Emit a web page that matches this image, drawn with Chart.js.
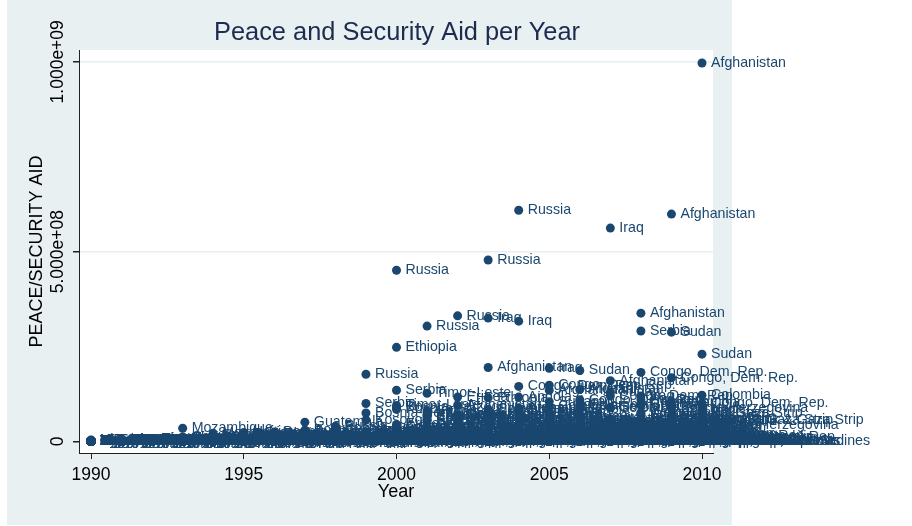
<!DOCTYPE html>
<html>
<head>
<meta charset="utf-8">
<title>Peace and Security Aid per Year</title>
<script src="https://cdn.jsdelivr.net/npm/chart.js@4.4.0/dist/chart.umd.min.js"></script>
<style>
  html, body { margin: 0; padding: 0; background: #fff; }
  canvas { display: block; }
</style>
</head>
<body>
<canvas id="aidChart" width="912" height="526"></canvas>
<script>
const years = [1990, 1991, 1992, 1993, 1994, 1995, 1996, 1997, 1998, 1999, 2000,
               2001, 2002, 2003, 2004, 2005, 2006, 2007, 2008, 2009, 2010];
const xTicks = [1990, 1995, 2000, 2005, 2010];
const yTicks = [0, 5e8, 1e9];
const yTickLabels = ["0", "5.000e+08", "1.000e+09"];

const countries = [
  "Afghanistan", "Angola", "Bosnia-Herzegovina", "Burundi", "Cambodia", "Colombia",
  "Congo, Dem. Rep.", "Cote d'Ivoire", "El Salvador", "Eritrea", "Ethiopia", "Georgia",
  "Guatemala", "Haiti", "Indonesia", "Iraq", "Kosovo", "Lebanon", "Liberia", "Mozambique",
  "Nepal", "Philippines", "Rwanda", "Serbia", "Sierra Leone", "Somalia", "Sri Lanka",
  "Sudan", "Timor-Leste", "Uganda", "West Bank & Gaza Strip", "Nicaragua", "Tajikistan",
  "Yemen", "Kenya", "Pakistan", "Russia",
  "Central African Rep.", "Micronesia, Fed. Sts.", "Papua New Guinea", "Guinea-Bissau",
  "Dominican Republic", "Solomon Islands", "St. Vincent & Grenadines", "Macedonia, FYR",
  "Kyrgyz Republic", "Armenia", "Azerbaijan", "Honduras", "Peru", "Chad", "Croatia",
  "Ukraine", "Mali", "Myanmar"
];

// peace/security aid, US$ millions, one row per country, 1990..2010
const aidMillions = [
  [0, 0, 1, 0, 2, 1, 3, 2, 4, 6, 8, 12, 95, 195, 88, 135, 137, 160, 338, 599, 997],
  [0, 1, 2, 5, 8, 12, 10, 14, 9, 11, 15, 30, 45, 62, 117, 70, 40, 25, 18, 12, 10],
  [0, 0, 0, 3, 6, 18, 25, 30, 35, 75, 90, 70, 60, 55, 45, 40, 38, 50, 60, 87, 43],
  [0, 0, 0, 1, 2, 3, 4, 2, 3, 5, 8, 15, 22, 30, 40, 48, 55, 38, 30, 25, 20],
  [1, 2, 5, 12, 18, 20, 15, 10, 14, 12, 10, 8, 7, 9, 6, 5, 8, 7, 6, 5, 4],
  [0, 0, 1, 0, 1, 2, 2, 3, 5, 20, 38, 65, 70, 85, 80, 92, 95, 88, 100, 105, 122],
  [0, 0, 0, 0, 1, 2, 1, 3, 5, 10, 25, 40, 55, 75, 145, 148, 110, 120, 182, 168, 101],
  [0, 0, 0, 0, 0, 0, 0, 0, 1, 1, 2, 3, 12, 20, 30, 35, 28, 25, 22, 15, 10],
  [2, 3, 6, 8, 10, 9, 7, 5, 4, 3, 2, 2, 1, 1, 1, 0, 1, 0, 0, 0, 0],
  [0, 0, 0, 1, 2, 4, 3, 2, 3, 12, 45, 70, 117, 60, 35, 20, 12, 8, 5, 4, 3],
  [1, 0, 1, 2, 3, 2, 4, 5, 8, 20, 248, 55, 40, 115, 30, 25, 20, 18, 15, 12, 10],
  [0, 0, 0, 1, 3, 5, 6, 7, 8, 10, 12, 15, 18, 20, 25, 28, 30, 45, 95, 60, 40],
  [1, 2, 3, 4, 6, 10, 20, 51, 30, 25, 15, 10, 8, 6, 5, 7, 6, 8, 9, 10, 8],
  [0, 1, 2, 5, 15, 24, 20, 18, 12, 10, 8, 6, 5, 10, 40, 55, 50, 45, 38, 30, 85],
  [0, 0, 0, 0, 0, 1, 1, 2, 5, 15, 30, 25, 20, 18, 22, 65, 40, 25, 18, 12, 10],
  [0, 0, 1, 2, 1, 0, 0, 0, 0, 0, 0, 0, 2, 325, 317, 193, 105, 562, 120, 95, 80],
  [0, 0, 0, 0, 0, 0, 0, 0, 10, 57, 85, 60, 45, 35, 28, 25, 30, 38, 75, 50, 42],
  [0, 0, 1, 2, 3, 4, 3, 2, 2, 3, 4, 5, 4, 3, 2, 3, 15, 45, 55, 40, 35],
  [0, 0, 1, 2, 4, 6, 8, 10, 6, 5, 4, 3, 2, 25, 60, 70, 65, 55, 40, 30, 25],
  [0, 1, 4, 35, 22, 15, 10, 6, 4, 3, 2, 1, 1, 0, 1, 0, 0, 0, 0, 0, 0],
  [0, 0, 0, 0, 0, 1, 0, 0, 1, 2, 3, 5, 10, 12, 15, 18, 25, 40, 48, 35, 28],
  [0, 0, 0, 1, 1, 2, 2, 3, 4, 5, 6, 8, 10, 12, 15, 18, 20, 25, 30, 28, 2],
  [0, 0, 0, 1, 8, 20, 15, 12, 10, 8, 7, 6, 5, 6, 8, 10, 8, 6, 5, 4, 3],
  [0, 0, 0, 0, 0, 0, 0, 0, 5, 100, 135, 80, 70, 65, 60, 75, 85, 90, 291, 70, 45],
  [0, 0, 0, 0, 1, 2, 3, 4, 6, 12, 40, 55, 48, 35, 25, 20, 15, 12, 10, 8, 7],
  [0, 0, 2, 10, 8, 4, 2, 1, 1, 1, 2, 3, 5, 8, 12, 20, 30, 50, 70, 65, 58],
  [0, 0, 0, 0, 0, 0, 1, 1, 2, 2, 3, 4, 10, 20, 15, 25, 30, 22, 18, 15, 12],
  [0, 0, 0, 0, 0, 0, 0, 0, 1, 2, 4, 6, 10, 20, 85, 105, 187, 130, 110, 288, 230],
  [0, 0, 0, 0, 0, 0, 0, 0, 0, 15, 95, 127, 70, 40, 30, 20, 25, 35, 28, 20, 15],
  [0, 0, 0, 1, 1, 2, 2, 3, 4, 5, 6, 8, 10, 15, 20, 25, 30, 28, 22, 18, 15],
  [0, 0, 0, 2, 10, 15, 12, 10, 8, 8, 10, 12, 20, 25, 30, 40, 45, 60, 75, 56, 56],
  [3, 5, 6, 8, 7, 6, 5, 4, 3, 2, 2, 1, 1, 1, 0, 0, 0, 0, 0, 0, 0],
  [0, 0, 0, 1, 2, 3, 4, 5, 6, 4, 3, 5, 8, 10, 12, 10, 8, 7, 6, 5, 4],
  [0, 0, 0, 0, 0, 0, 0, 0, 0, 0, 1, 1, 2, 2, 3, 4, 5, 8, 12, 20, 30],
  [0, 0, 0, 0, 0, 0, 0, 1, 1, 2, 3, 4, 5, 6, 8, 10, 12, 15, 25, 20, 18],
  [0, 0, 0, 0, 0, 0, 0, 0, 0, 0, 1, 2, 5, 8, 12, 15, 20, 30, 45, 60, 75],
  [0, 0, 1, 3, 8, 15, 20, 25, 40, 177, 451, 304, 331, 478, 609, 80, 60, 55, 50, 45, 40],
  [0, 0, 0, 1, 1, 2, 3, 5, 6, 4, 3, 5, 6, 8, 10, 12, 15, 18, 20, 15, 12],
  [0, 0, 0, 0, 0, 0, 0, 0, 0, 0, 0, 0, 0, 0, 0, 0, 0, 0, 0, 0, 1],
  [1, 2, 3, 4, 6, 5, 8, 10, 12, 10, 8, 6, 5, 5, 6, 7, 6, 5, 4, 3, 3],
  [0, 0, 0, 0, 0, 0, 1, 2, 6, 8, 5, 4, 3, 3, 4, 6, 8, 10, 8, 6, 5],
  [1, 2, 2, 3, 3, 2, 2, 1, 1, 1, 1, 1, 2, 2, 2, 2, 1, 1, 1, 1, 1],
  [0, 0, 0, 0, 0, 0, 0, 0, 0, 1, 3, 8, 15, 30, 25, 18, 12, 10, 8, 6, 5],
  [0, 0, 0, 0, 0, 0, 0, 0, 0, 0, 0, 0, 0, 0, 0, 0, 0, 0, 0, 0, 0],
  [0, 0, 0, 2, 4, 6, 8, 6, 10, 25, 30, 35, 28, 20, 15, 12, 10, 8, 6, 5, 4],
  [0, 0, 0, 0, 1, 2, 2, 3, 3, 4, 5, 6, 7, 8, 9, 10, 11, 12, 10, 8, 12],
  [0, 0, 0, 2, 3, 4, 5, 4, 3, 3, 4, 5, 6, 7, 8, 7, 6, 5, 4, 3, 3],
  [0, 0, 0, 1, 2, 3, 4, 5, 5, 6, 7, 8, 9, 10, 12, 14, 15, 13, 11, 9, 8],
  [4, 5, 6, 7, 6, 5, 4, 3, 3, 5, 4, 3, 2, 2, 2, 3, 3, 2, 2, 2, 1],
  [2, 3, 4, 5, 6, 7, 6, 5, 4, 3, 4, 5, 6, 8, 9, 10, 12, 11, 10, 9, 8],
  [0, 0, 0, 0, 1, 1, 1, 1, 2, 2, 3, 3, 4, 5, 10, 15, 20, 30, 35, 25, 22],
  [0, 0, 1, 5, 10, 15, 20, 18, 14, 12, 10, 8, 6, 5, 4, 3, 2, 1, 1, 0, 0],
  [0, 0, 1, 2, 5, 8, 10, 12, 15, 18, 20, 22, 25, 20, 18, 15, 12, 10, 8, 6, 5],
  [0, 0, 0, 0, 1, 1, 2, 2, 3, 3, 4, 5, 6, 7, 8, 9, 10, 12, 15, 14, 12],
  [0, 0, 0, 0, 0, 0, 0, 0, 0, 0, 1, 1, 2, 2, 3, 3, 4, 5, 6, 5, 4]
];

const navy = "#1a476f";
const panelColor = "#e9f0f2";
const labelFont = '14.2px "Liberation Sans", Arial, sans-serif';

const points = [];
countries.forEach((name, i) => {
  aidMillions[i].forEach((v, j) => {
    points.push({ x: years[j], y: v * 1e6, label: name });
  });
});

// graph region, plot region, titles and axis text
const stataFrame = {
  id: "stataFrame",
  beforeDraw(chart) {
    const ctx = chart.ctx;
    const a = chart.chartArea;
    ctx.save();
    ctx.fillStyle = "#ffffff";
    ctx.fillRect(0, 0, chart.width, chart.height);
    ctx.fillStyle = panelColor;
    ctx.fillRect(7, 0, 725, 525);
    ctx.fillStyle = "#ffffff";
    ctx.fillRect(a.left, a.top, a.right - a.left, a.bottom - a.top);
    ctx.restore();
  },
  afterDraw(chart) {
    const ctx = chart.ctx;
    const a = chart.chartArea;
    const xs = chart.scales.x;
    const ys = chart.scales.y;
    const midX = (a.left + a.right) / 2;
    ctx.save();

    ctx.fillStyle = "#1c2b4f";
    ctx.font = '25.4px "Liberation Sans", Arial, sans-serif';
    ctx.textAlign = "center";
    ctx.textBaseline = "middle";
    ctx.fillText("Peace and Security Aid per Year", midX + 1, 33);

    ctx.fillStyle = "#000000";
    ctx.font = '17.5px "Liberation Sans", Arial, sans-serif';
    xTicks.forEach(v => ctx.fillText(String(v), xs.getPixelForValue(v), 475));
    ctx.font = '18px "Liberation Sans", Arial, sans-serif';
    ctx.fillText("Year", midX, 492);

    ctx.font = '17.5px "Liberation Sans", Arial, sans-serif';
    yTicks.forEach((v, i) => {
      ctx.save();
      ctx.translate(58, ys.getPixelForValue(v));
      ctx.rotate(-Math.PI / 2);
      ctx.fillText(yTickLabels[i], 0, 0);
      ctx.restore();
    });
    ctx.font = '18px "Liberation Sans", Arial, sans-serif';
    ctx.translate(37, (a.top + a.bottom) / 2);
    ctx.rotate(-Math.PI / 2);
    ctx.fillText("PEACE/SECURITY AID", 0, 0);
    ctx.restore();
  }
};

// country name to the right of each marker
const markerLabels = {
  id: "markerLabels",
  afterDatasetsDraw(chart) {
    const ctx = chart.ctx;
    const meta = chart.getDatasetMeta(0);
    ctx.save();
    ctx.font = labelFont;
    ctx.fillStyle = navy;
    ctx.textAlign = "left";
    ctx.textBaseline = "middle";
    meta.data.forEach((el, i) => {
      ctx.fillText(points[i].label, el.x + 9, el.y);
    });
    ctx.restore();
  }
};

new Chart(document.getElementById("aidChart"), {
  type: "scatter",
  data: {
    datasets: [{
      data: points,
      pointRadius: 4.5,
      pointHoverRadius: 4.5,
      pointBackgroundColor: navy,
      pointBorderWidth: 0,
      clip: false
    }]
  },
  options: {
    responsive: false,
    animation: false,
    events: [],
    layout: { padding: { left: 79, top: 50, right: 199, bottom: 73 } },
    plugins: {
      legend: { display: false },
      tooltip: { enabled: false }
    },
    scales: {
      x: {
        type: "linear",
        min: 1989.607,
        max: 2010.36,
        afterBuildTicks: s => { s.ticks = xTicks.map(v => ({ value: v })); },
        afterFit: s => { s.height = 0; },
        ticks: { display: false },
        grid: { color: "rgba(0,0,0,0)", tickColor: "#222", tickLength: 6, lineWidth: 1 },
        border: { color: "#222", width: 1 }
      },
      y: {
        type: "linear",
        min: -3.03e7,
        max: 1.0311e9,
        afterBuildTicks: s => { s.ticks = yTicks.map(v => ({ value: v })); },
        afterFit: s => { s.width = 0; },
        ticks: { display: false },
        grid: {
          color: c => (c.tick && c.tick.value === 0 ? "rgba(0,0,0,0)" : "#e6eef1"),
          lineWidth: 1.5,
          tickColor: "#222",
          tickLength: 6
        },
        border: { color: "#222", width: 1 }
      }
    }
  },
  plugins: [stataFrame, markerLabels]
});
</script>
</body>
</html>
